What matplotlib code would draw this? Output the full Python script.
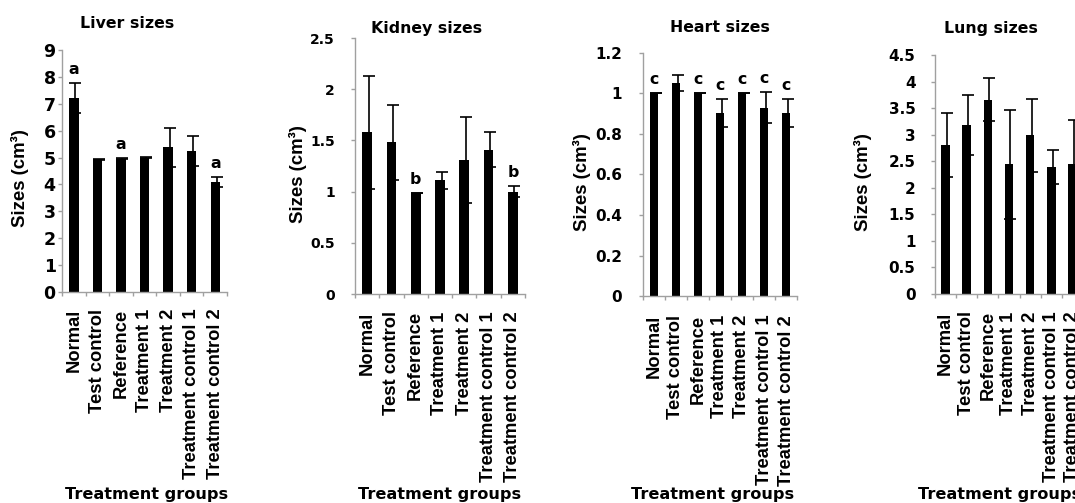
import matplotlib
matplotlib.use("Agg")
import matplotlib.pyplot as plt
from matplotlib.ticker import FixedLocator, FuncFormatter
from matplotlib.transforms import ScaledTranslation
import numpy as np

# ---------------- data ----------------
groups = ["Normal", "Test control", "Reference", "Treatment 1", "Treatment 2",
          "Treatment control 1", "Treatment control 2"]

liver_mean = [7.23, 4.93, 4.95, 5.0, 5.38, 5.23, 4.1]
liver_err = [0.56, 0.02, 0.02, 0.02, 0.72, 0.56, 0.18]
liver_letters = ["a", "", "a", "", "", "", "a"]

kidney_mean = [1.58, 1.48, 0.99, 1.11, 1.31, 1.41, 1.0]
kidney_err = [0.55, 0.37, 0.0, 0.08, 0.42, 0.17, 0.05]
kidney_letters = ["", "", "b", "", "", "", "b"]

heart_mean = [1.0, 1.05, 1.0, 0.905, 1.0, 0.93, 0.905]
heart_err = [0.0, 0.04, 0.0, 0.07, 0.0, 0.075, 0.07]
heart_letters = ["c", "", "c", "c", "c", "c", "c"]

lung_mean = [2.8, 3.18, 3.66, 2.44, 2.99, 2.40, 2.44]
lung_err = [0.6, 0.57, 0.41, 1.03, 0.69, 0.32, 0.83]
lung_letters = ["", "", "", "", "", "", ""]

titles = ["Liver sizes", "Kidney sizes", "Heart sizes", "Lung sizes"]
y_max = [9, 2.5, 1.2, 4.5]
y_step = [1, 0.5, 0.2, 0.5]
ylabel_text = "Sizes (cm³)"
xlabel_text = "Treatment groups"

# ---------------- style ----------------
HFONT = "DejaVu Sans"
RFONT = "Liberation Sans"
GREY = "#a0a0a0"
plt.rcParams["font.family"] = [HFONT]
plt.rcParams["font.weight"] = "bold"
plt.rcParams["axes.labelweight"] = "bold"

# ---------------- layout (pixels) ----------------
W, H = 1075, 503
fig = plt.figure(figsize=(W / 100, H / 100), dpi=100)
fig.patch.set_facecolor("white")

rects = [(62, 50, 227, 292), (355, 38, 525, 294), (643, 53, 797, 296), (935, 55, 1083, 294)]
ytick_pad = [1.5, 11.5, 12, 11]
ytick_size = [12.5, 10, 11, 11]
ylabel_x = [20, 298, 582, 863]
title_x = [127, 427, 720, 991]
title_y = [24, 28, 28, 28]
xlabel_x = [147, 440, 713, 1000]
xtick_pad = [12, 12.5, 13.5, 12.5]

means = [liver_mean, kidney_mean, heart_mean, lung_mean]
errs = [liver_err, kidney_err, heart_err, lung_err]
letters = [liver_letters, kidney_letters, heart_letters, lung_letters]

x = np.arange(len(groups))
fmt = FuncFormatter(lambda v, p: "{:g}".format(round(v, 3)))

for k in range(4):
    l, t, r, b = rects[k]
    ax = fig.add_axes([l / W, 1 - b / H, (r - l) / W, (b - t) / H])
    ax.set_facecolor("none")
    shift = ax.transData + ScaledTranslation(1.5 / 100, 0, fig.dpi_scale_trans)
    ax.errorbar(x, means[k], yerr=errs[k], fmt="none", ecolor="black",
                elinewidth=1.2, capsize=4, capthick=1.2, zorder=1, transform=shift)
    ax.bar(x, means[k], width=0.4, color="black", zorder=2)

    for i, lab in enumerate(letters[k]):
        if lab:
            ax.annotate(lab, (x[i], means[k][i] + errs[k][i]), xytext=(0, 6.5),
                        textcoords="offset points", ha="center", va="baseline",
                        fontsize=11.3, fontweight="bold", zorder=3)

    ax.set_xlim(-0.5, len(groups) - 0.5)
    ax.set_ylim(0, y_max[k])
    ax.yaxis.set_major_locator(FixedLocator(np.arange(0, y_max[k] + 1e-9, y_step[k])))
    ax.yaxis.set_major_formatter(fmt)

    ax.set_xticks(x)
    ax.set_xticklabels(groups, rotation=90, ha="center", va="top")
    ax.set_xticks(np.arange(-0.5, len(groups), 1.0), minor=True)
    ax.tick_params(axis="x", which="major", length=0, pad=xtick_pad[k],
                   labelsize=13.2, labelfontfamily=RFONT)
    ax.tick_params(axis="x", which="minor", length=3.2, width=1, color=GREY, direction="out")
    ax.tick_params(axis="y", length=3, width=1, color=GREY, direction="out",
                   pad=ytick_pad[k], labelsize=ytick_size[k])

    for s in ["top", "right"]:
        ax.spines[s].set_visible(False)
    for s in ["left", "bottom"]:
        ax.spines[s].set_color(GREY)
        ax.spines[s].set_linewidth(1)

    ax.set_ylabel(ylabel_text, fontsize=13.4, fontweight="bold", family=RFONT,
                  va="center", ha="center")
    ax.yaxis.set_label_coords((ylabel_x[k] - l) / (r - l), 0.47)

    fig.text(title_x[k] / W, 1 - title_y[k] / H, titles[k], ha="center", va="center",
             fontsize=11.3, fontweight="bold")
    fig.text(xlabel_x[k] / W, 1 - 494 / H, xlabel_text, ha="center", va="center",
             fontsize=11.6, fontweight="bold")

fig.savefig("out.png", dpi=100, facecolor="white")
